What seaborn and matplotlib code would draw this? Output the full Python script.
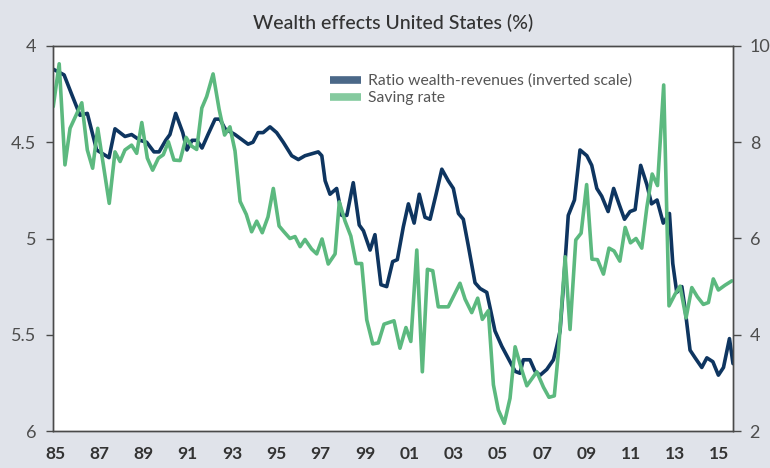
import numpy as np
import pandas as pd
import matplotlib
matplotlib.use("Agg")
import matplotlib.pyplot as plt
import seaborn as sns

# Ratio wealth-revenues (left axis, inverted)
ratio_year = [1984.91, 1985.41, 1985.75, 1986.13, 1986.46, 1986.88, 1987.44, 1987.71, 1988.16, 1988.46,
              1988.84, 1989.14, 1989.47, 1989.70, 1990.00, 1990.19, 1990.45, 1990.77, 1990.96, 1991.19,
              1991.41, 1991.64, 1991.91, 1992.23, 1992.45, 1992.68, 1993.13, 1993.72, 1993.94, 1994.17,
              1994.40, 1994.71, 1995.01, 1995.31, 1995.69, 1995.99, 1996.29, 1996.59, 1996.89, 1997.05,
              1997.20, 1997.42, 1997.72, 1997.95, 1998.18, 1998.47, 1998.74, 1998.93, 1999.23, 1999.45,
              1999.72, 1999.98, 2000.25, 2000.46, 2000.73, 2000.96, 2001.22, 2001.45, 2001.71, 2001.94,
              2002.21, 2002.47, 2002.76, 2002.99, 2003.22, 2003.44, 2003.67, 2003.97, 2004.20, 2004.50,
              2004.65, 2004.87, 2005.18, 2005.55, 2005.78, 2006.00, 2006.15, 2006.45, 2006.68, 2006.91,
              2007.21, 2007.51, 2007.66, 2007.81, 2007.96, 2008.18, 2008.46, 2008.71, 2009.02, 2009.24,
              2009.47, 2009.69, 2009.98, 2010.23, 2010.47, 2010.72, 2010.97, 2011.20, 2011.45, 2011.73,
              2011.94, 2012.19, 2012.47, 2012.75, 2012.90, 2013.08, 2013.31, 2013.46, 2013.68, 2013.91,
              2014.21, 2014.44, 2014.71, 2014.96, 2015.19, 2015.46, 2015.62]
ratio_value = [4.12, 4.15, 4.25, 4.36, 4.35, 4.54, 4.58, 4.43, 4.47, 4.46,
               4.49, 4.50, 4.55, 4.55, 4.49, 4.46, 4.35, 4.45, 4.54, 4.49,
               4.49, 4.53, 4.46, 4.38, 4.38, 4.43, 4.46, 4.51, 4.50, 4.45,
               4.45, 4.42, 4.45, 4.50, 4.57, 4.59, 4.57, 4.56, 4.55, 4.57,
               4.70, 4.77, 4.74, 4.88, 4.88, 4.71, 4.93, 4.96, 5.06, 4.98,
               5.24, 5.25, 5.12, 5.11, 4.94, 4.82, 4.92, 4.77, 4.89, 4.90,
               4.77, 4.64, 4.70, 4.74, 4.87, 4.90, 5.04, 5.23, 5.26, 5.28,
               5.36, 5.48, 5.56, 5.64, 5.69, 5.70, 5.63, 5.63, 5.69, 5.71,
               5.68, 5.63, 5.56, 5.48, 5.25, 4.88, 4.80, 4.54, 4.57, 4.62,
               4.74, 4.78, 4.86, 4.74, 4.82, 4.90, 4.86, 4.85, 4.62, 4.72,
               4.82, 4.80, 4.92, 4.87, 5.13, 5.28, 5.25, 5.37, 5.58, 5.62,
               5.67, 5.62, 5.64, 5.71, 5.67, 5.52, 5.65]

# Saving rate (right axis)
saving_year = [1984.92, 1985.19, 1985.45, 1985.68, 1986.21, 1986.46, 1986.70, 1986.93, 1987.45, 1987.71,
               1987.94, 1988.16, 1988.46, 1988.69, 1988.92, 1989.17, 1989.41, 1989.67, 1989.89, 1990.12,
               1990.37, 1990.65, 1990.92, 1991.17, 1991.40, 1991.63, 1991.85, 1992.14, 1992.41, 1992.66,
               1992.90, 1993.13, 1993.36, 1993.64, 1993.88, 1994.11, 1994.36, 1994.62, 1994.86, 1995.12,
               1995.34, 1995.61, 1995.84, 1996.07, 1996.29, 1996.59, 1996.82, 1997.06, 1997.34, 1997.65,
               1997.84, 1998.10, 1998.36, 1998.60, 1998.85, 1999.08, 1999.35, 1999.60, 1999.86, 2000.31,
               2000.58, 2000.85, 2001.07, 2001.34, 2001.59, 2001.82, 2002.06, 2002.31, 2002.76, 2003.29,
               2003.52, 2003.82, 2004.09, 2004.30, 2004.57, 2004.80, 2005.02, 2005.29, 2005.55, 2005.78,
               2006.08, 2006.31, 2006.76, 2007.06, 2007.31, 2007.55, 2007.73, 2008.04, 2008.26, 2008.52,
               2008.76, 2009.01, 2009.25, 2009.50, 2009.77, 2010.02, 2010.25, 2010.51, 2010.75, 2010.99,
               2011.24, 2011.50, 2011.73, 2011.97, 2012.21, 2012.49, 2012.73, 2013.00, 2013.23, 2013.50,
               2013.76, 2014.01, 2014.28, 2014.51, 2014.73, 2014.96, 2015.26, 2015.57]
saving_value = [8.74, 9.63, 7.53, 8.29, 8.82, 7.84, 7.46, 8.29, 6.73, 7.80,
                7.60, 7.84, 7.94, 7.77, 8.41, 7.67, 7.42, 7.67, 7.74, 8.01,
                7.63, 7.62, 8.10, 7.92, 7.85, 8.71, 8.95, 9.42, 8.69, 8.15,
                8.32, 7.82, 6.77, 6.50, 6.14, 6.36, 6.12, 6.45, 7.04, 6.26,
                6.14, 6.00, 6.04, 5.83, 5.98, 5.78, 5.68, 5.99, 5.47, 5.68,
                6.76, 6.36, 6.05, 5.48, 5.48, 4.31, 3.81, 3.83, 4.22, 4.29,
                3.72, 4.15, 3.86, 5.76, 3.23, 5.36, 5.33, 4.58, 4.58, 5.07,
                4.74, 4.46, 4.76, 4.32, 4.50, 2.96, 2.44, 2.16, 2.68, 3.75,
                3.27, 2.94, 3.23, 2.91, 2.70, 2.73, 3.61, 5.62, 4.11, 5.97,
                6.11, 7.12, 5.57, 5.56, 5.26, 5.80, 5.74, 5.53, 6.23, 5.91,
                6.00, 5.80, 6.65, 7.34, 7.10, 9.19, 4.60, 4.84, 5.01, 4.35,
                4.98, 4.79, 4.63, 4.67, 5.16, 4.93, 5.03, 5.12]

xtick_years = [1985, 1987, 1989, 1991, 1993, 1995, 1997, 1999, 2001, 2003, 2005, 2007, 2009, 2011, 2013, 2015]
xtick_labels = ["85", "87", "89", "91", "93", "95", "97", "99", "01", "03", "05", "07", "09", "11", "13", "15"]
left_ticks = [4, 4.5, 5, 5.5, 6]
left_labels = ["4", "4.5", "5", "5.5", "6"]
right_ticks = [2, 4, 6, 8, 10]
right_labels = ["2", "4", "6", "8", "10"]

BG = "#e0e3ea"
NAVY = "#0e3560"
GREEN = "#5cb97f"
SPINE = "#4a4a4a"

sns.set_style("white")
plt.rcParams["font.family"] = ["Lato", "DejaVu Sans"]

ratio_df = pd.DataFrame({"year": ratio_year, "value": ratio_value})
saving_df = pd.DataFrame({"year": saving_year, "value": saving_value})

fig = plt.figure(figsize=(7.7, 4.68), dpi=100, facecolor=BG)
ax = fig.add_axes([53 / 770, 1 - 431 / 468, 680 / 770, 385 / 468])
ax.set_facecolor("white")

sns.lineplot(data=ratio_df, x="year", y="value", ax=ax, color=NAVY, linewidth=2.6,
             label="Ratio wealth-revenues (inverted scale)", legend=False)
ax2 = ax.twinx()
sns.lineplot(data=saving_df, x="year", y="value", ax=ax2, color=GREEN, linewidth=2.6,
             label="Saving rate", legend=False)

ax.set_xlim(1984.91, 2015.62)
ax.set_ylim(6, 4)
ax2.set_ylim(2, 10)

ax.set_xticks(xtick_years)
ax.set_xticklabels(xtick_labels, fontsize=12.5, fontweight="bold", color="#333333")
ax.set_yticks(left_ticks)
ax.set_yticklabels(left_labels, fontsize=13, color="#4d4d4d")
ax2.set_yticks(right_ticks)
ax2.set_yticklabels(right_labels, fontsize=13, color="#4d4d4d")

ax.tick_params(axis="x", length=0, pad=11)
ax.tick_params(axis="y", length=5, width=1, color=SPINE, direction="out", pad=7, left=True)
ax2.tick_params(axis="y", length=6, width=1, color=SPINE, direction="out", pad=6, right=True)

ax.set_xlabel("")
ax.set_ylabel("")
ax2.set_ylabel("")

for a in (ax, ax2):
    for side in ["left", "right", "top", "bottom"]:
        a.spines[side].set_visible(True)
        a.spines[side].set_color(SPINE)
        a.spines[side].set_linewidth(1)

ax.set_title("Wealth effects United States (%)", fontsize=14, color="#333333", pad=12,
             fontweight="medium")

handles = ax.get_lines()[:1] + ax2.get_lines()[:1]
leg = ax2.legend(handles, [h.get_label() for h in handles], loc="upper left",
                 bbox_to_anchor=(0.407, 0.928), frameon=False, fontsize=11.3,
                 handlelength=2.0, handletextpad=0.45, labelspacing=0.2,
                 borderpad=0, borderaxespad=0)
for line in leg.get_lines():
    line.set_linewidth(5.5)
    line.set_alpha(0.75)
    line.set_solid_capstyle("butt")
for text in leg.get_texts():
    text.set_color("#555555")

fig.savefig("out.png", dpi=100, facecolor=BG)
